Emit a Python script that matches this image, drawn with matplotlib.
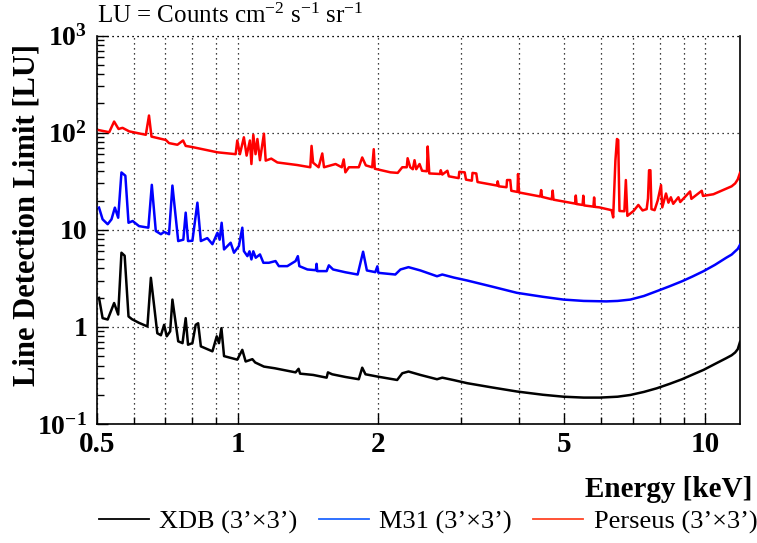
import matplotlib
matplotlib.use("Agg")
import matplotlib.pyplot as plt
from matplotlib.lines import Line2D
from matplotlib.ticker import FixedLocator, FuncFormatter, NullFormatter

plt.rcParams["font.family"] = ["Liberation Serif", "DejaVu Serif"]
plt.rcParams["mathtext.fontset"] = "custom"
plt.rcParams["mathtext.rm"] = "Liberation Serif"
plt.rcParams["mathtext.bf"] = "Liberation Serif:bold"
plt.rcParams["mathtext.it"] = "Liberation Serif:italic"

# ---- line detection limits (LU) vs energy (keV) ----
xdb_energy = [0.505, 0.514, 0.527, 0.544, 0.555, 0.564, 0.573, 0.584, 0.594, 0.615,
              0.641, 0.652, 0.673, 0.685, 0.696, 0.705, 0.717, 0.725, 0.746, 0.762,
              0.774, 0.783, 0.800, 0.813, 0.823, 0.834, 0.883, 0.902, 0.912, 0.923,
              0.935, 0.998, 1.023, 1.040, 1.075, 1.09, 1.138, 1.20, 1.33, 1.35, 1.36,
              1.45, 1.55, 1.56, 1.593, 1.70, 1.816, 1.847, 1.877, 1.99, 2.194, 2.25, 2.32,
              2.46, 2.67, 2.74, 2.90, 3.10, 3.50, 3.96, 4.50, 4.98, 5.50, 5.96, 6.50,
              6.92, 7.40, 7.88, 8.40, 8.93, 9.40, 9.93, 10.5, 11.1, 11.4, 11.6, 11.75, 11.88]
xdb_limit = [1.99, 1.23, 1.19, 1.76, 1.34, 5.8, 5.4, 1.28, 1.20, 1.10,
             1.01, 3.2, 0.86, 0.82, 1.05, 0.80, 0.90, 1.91, 0.71, 0.68,
             1.23, 0.655, 0.68, 1.05, 1.09, 0.63, 0.56, 0.80, 0.68, 0.97,
             0.50, 0.46, 0.58, 0.44, 0.465, 0.43, 0.39, 0.375, 0.34, 0.37, 0.33,
             0.32, 0.30, 0.34, 0.325, 0.305, 0.289, 0.38, 0.325, 0.308, 0.284, 0.333, 0.347,
             0.32, 0.289, 0.30, 0.283, 0.263, 0.238, 0.216, 0.200, 0.191, 0.187, 0.187, 0.191,
             0.199, 0.214, 0.233, 0.259, 0.289, 0.322, 0.361, 0.415, 0.476, 0.51, 0.545, 0.59, 0.70]

m31_energy = [0.505, 0.514, 0.527, 0.537, 0.546, 0.555, 0.564, 0.575, 0.584, 0.596,
              0.615, 0.644, 0.655, 0.668, 0.685, 0.696, 0.713, 0.725, 0.746, 0.765,
              0.774, 0.783, 0.800, 0.820, 0.834, 0.861, 0.883, 0.905, 0.915, 0.924,
              0.935, 0.966, 0.982, 1.006, 1.023, 1.031, 1.049, 1.06, 1.070, 1.08,
              1.093, 1.116, 1.135, 1.166, 1.205, 1.225, 1.277, 1.33, 1.345, 1.355,
              1.41, 1.47, 1.475, 1.48, 1.55, 1.567, 1.6, 1.70, 1.806, 1.855, 1.89,
              1.97, 1.99, 2.0, 2.174, 2.23, 2.32, 2.46, 2.67, 2.74, 2.90, 3.10,
              3.50, 3.96, 4.50, 4.98, 5.50, 6.15, 6.50, 6.92, 7.40, 7.88, 8.40, 8.93,
              9.40, 9.93, 10.5, 11.1, 11.4, 11.6, 11.75, 11.88]
m31_limit = [16.9, 12.8, 11.4, 12.8, 16.9, 13.3, 38.9, 36.0, 11.8, 12.3,
             10.9, 10.5, 29.0, 9.7, 9.0, 9.5, 9.0, 28.5, 7.65, 7.9,
             15.0, 7.65, 7.7, 19.0, 7.65, 8.2, 7.1, 9.3, 7.9, 11.8,
             6.27, 7.35, 5.80, 6.8, 10.5, 6.03, 5.35, 6.0, 4.95, 6.0,
             5.15, 5.57, 4.57, 4.57, 4.76, 4.22, 4.22, 4.76, 5.35, 4.22,
             3.9, 3.83, 4.46, 3.75, 3.75, 4.3, 3.9, 3.65, 3.46, 5.94, 3.81,
             3.66, 4.2, 3.6, 3.46, 3.9, 4.12, 3.81, 3.32, 3.46, 3.22, 3.0,
             2.60, 2.24, 2.04, 1.91, 1.85, 1.83, 1.85, 1.91, 2.08, 2.33, 2.62, 2.95,
             3.30, 3.75, 4.35, 5.15, 5.55, 6.0, 6.35, 7.0]

perseus_energy = [0.505, 0.531, 0.544, 0.556, 0.567, 0.586, 0.636, 0.646, 0.654, 0.702,
                  0.713, 0.743, 0.764, 0.774, 0.80, 0.905, 0.99, 0.998, 1.011, 1.031,
                  1.045, 1.062, 1.07, 1.08, 1.092, 1.102, 1.116, 1.138, 1.148, 1.18,
                  1.216, 1.34, 1.43, 1.439, 1.45, 1.49, 1.517, 1.53, 1.62, 1.67,
                  1.686, 1.70, 1.73, 1.816, 1.847, 1.88, 1.94, 1.955, 1.965, 2.123,
                  2.2, 2.25, 2.30, 2.31, 2.34, 2.37, 2.39, 2.41, 2.45, 2.48,
                  2.54, 2.55, 2.57, 2.71, 2.72, 2.74, 2.81, 2.83, 2.97, 2.98,
                  3.06, 3.08, 3.17, 3.18, 3.24, 3.26, 3.59, 3.60, 3.62, 3.76,
                  3.77, 3.83, 3.85, 3.97, 3.98, 4.0, 4.44, 4.46, 4.48, 4.70,
                  4.72, 4.74, 5.27, 5.29, 5.31, 5.47, 5.49, 5.51, 5.77, 5.79,
                  5.81, 5.94, 6.31, 6.36, 6.43, 6.48, 6.52, 6.56, 6.72, 6.77,
                  6.82, 7.03, 7.20, 7.35, 7.50, 7.55, 7.59, 7.64, 7.68, 7.8, 7.92, 8.05,
                  8.1, 8.25, 8.35, 8.45, 8.55, 8.77, 8.85, 9.29, 9.35, 9.84,
                  9.9, 10.42, 11.1, 11.4, 11.6, 11.75, 11.88]
perseus_limit = [106, 101, 130, 109, 112, 103, 95, 150, 91, 84,
                 78, 75, 83, 73, 71, 62.7, 60, 83, 60, 89.5,
                 58, 83, 47.5, 95, 60, 86, 52, 97.5, 51.5, 54,
                 49.3, 46.4, 44, 73, 49, 44, 61, 44, 47.5, 44,
                 53, 39, 44, 44, 55.5, 46, 44, 67.5, 42.5, 39,
                 38.5, 44, 44, 54.5, 44, 42, 52, 42, 47.5, 40.5,
                 40, 72, 38, 37.5, 41, 37, 40.5, 35.5, 34, 39.5,
                 39, 32.8, 32, 38.5, 38, 31, 28.5, 31.5, 28, 27.4,
                 32.5, 32.5, 25.2, 24.5, 37.5, 24.2, 22.0, 25.6, 21.8, 20.6,
                 25.3, 20.4, 18.6, 22.5, 18.4, 18.0, 22.4, 17.8, 17.3, 21.5,
                 17.2, 17.0, 15.9, 13.4, 51.5, 86, 84, 15.6, 15.5, 32.5,
                 13.9, 15.6, 18.0, 15.8, 16.3, 21, 41, 41, 16.3, 15.9, 20, 28.8,
                 17, 23.6, 19, 21.6, 18.5, 21.6, 19.3, 24.8, 20.8, 25.2,
                 22.3, 23.2, 26.5, 28.0, 30.0, 33.0, 38.5]

series_labels = ["XDB (3\u2019\u00d73\u2019)", "M31 (3\u2019\u00d73\u2019)", "Perseus (3\u2019\u00d73\u2019)"]
line_colors = ["black", "#0000ff", "#ff0000"]
legend_colors = ["black", "#1f66ff", "#ff4425"]

x_major = [0.5, 1, 2, 5, 10]
x_major_labels = ["0.5", "1", "2", "5", "10"]
x_minor = [0.6, 0.7, 0.8, 0.9, 3, 4, 6, 7, 8, 9]
y_major = [0.1, 1, 10, 100, 1000]
y_major_labels = [r"$\mathbf{10^{-1}}$", "1", "10", r"$\mathbf{10^{2}}$", r"$\mathbf{10^{3}}$"]

fig = plt.figure(figsize=(7.57, 5.43), dpi=100)
ax = fig.add_axes([97 / 757, 1 - 424 / 543, (740 - 97) / 757, (424 - 35.5) / 543])

for e, v, c in zip([xdb_energy, m31_energy, perseus_energy],
                   [xdb_limit, m31_limit, perseus_limit], line_colors):
    ax.plot(e, v, color=c, lw=1.8, solid_joinstyle="round", zorder=3)

ax.set_xscale("log")
ax.set_yscale("log")
ax.set_xlim(0.5, 11.88)
ax.set_ylim(0.1, 1000)

ax.xaxis.set_major_locator(FixedLocator(x_major))
ax.xaxis.set_major_formatter(FuncFormatter(lambda v, p: x_major_labels[min(range(5), key=lambda i: abs(x_major[i] - v))]))
ax.xaxis.set_minor_locator(FixedLocator(x_minor))
ax.xaxis.set_minor_formatter(NullFormatter())
ax.yaxis.set_major_locator(FixedLocator(y_major))
ax.yaxis.set_major_formatter(FuncFormatter(lambda v, p: y_major_labels[min(range(5), key=lambda i: abs(y_major[i] - v) / y_major[i])]))
ax.yaxis.set_minor_locator(FixedLocator([m * 10.0 ** d for d in range(-1, 3) for m in range(2, 10)]))
ax.yaxis.set_minor_formatter(NullFormatter())

ax.tick_params(which="both", direction="in", top=False, right=False, width=1.0, color="black")
ax.tick_params(which="major", length=8)
ax.tick_params(which="minor", length=5)
ax.tick_params(axis="x", which="major", labelsize=21, pad=5)
ax.tick_params(axis="y", which="major", labelsize=20, pad=7)
for lbl in ax.get_xticklabels() + ax.get_yticklabels():
    lbl.set_fontweight("bold")

ax.grid(True, which="major", axis="both", color="black", linestyle=(0, (1, 3)), lw=0.9)
ax.grid(True, which="minor", axis="x", color="black", linestyle=(0, (1, 3)), lw=0.9)
ax.axhline(1000, color="black", linestyle=(0, (1, 3)), lw=0.9, clip_on=False)

ax.spines["top"].set_visible(False)
for s in ["left", "bottom", "right"]:
    ax.spines[s].set_linewidth(1.2)

ax.set_xlabel("Energy [keV]", fontsize=21, fontweight="bold")
ax.xaxis.set_label_coords((752 - 97) / 643, -0.135)
ax.xaxis.label.set_horizontalalignment("right")
fig.text(27 / 757, 1 - 215 / 543, "Line Detection Limit [LU]", rotation=90,
         fontsize=22, fontweight="bold", ha="center", va="center")
fig.text(97 / 757, 1 - 16 / 543, r"LU = Counts cm$^{-2}$ s$^{-1}$ sr$^{-1}$",
         fontsize=18, ha="left", va="center")

handles = [Line2D([], [], color=c, lw=1.3) for c in legend_colors]
fig.legend(handles, series_labels, loc="center", bbox_to_anchor=(428 / 757, 1 - 522 / 543),
           ncol=3, frameon=False, fontsize=19, handlelength=1.9, handletextpad=0.4,
           columnspacing=0.8)

fig.savefig("out.png", dpi=100)
